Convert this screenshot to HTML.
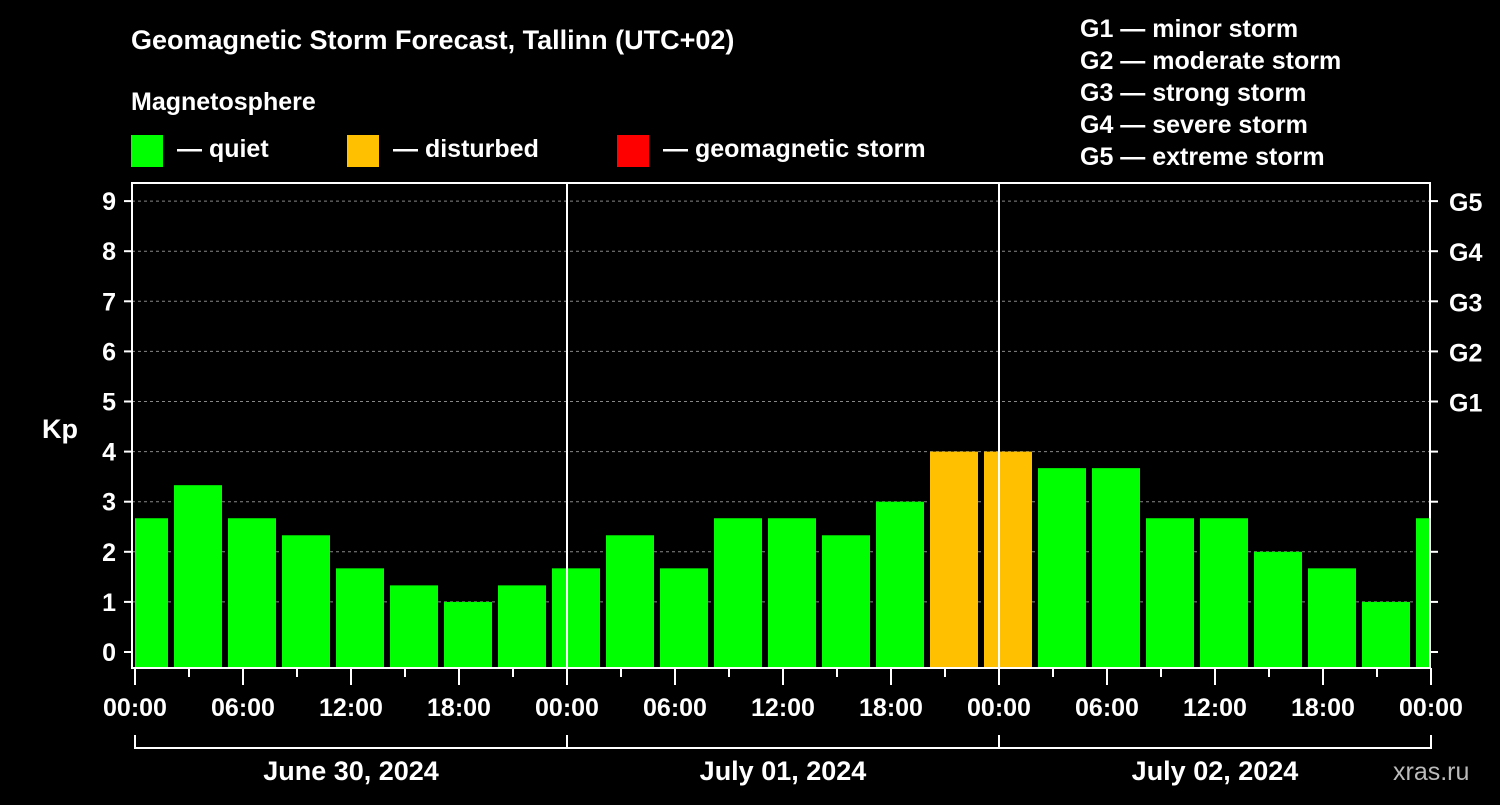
<!DOCTYPE html>
<html><head><meta charset="utf-8"><style>
body{margin:0;background:#000;width:1500px;height:800px;overflow:hidden}
svg text{font-family:"Liberation Sans",sans-serif;font-weight:bold;fill:#fff}
</style></head><body>
<svg id="c" width="1500" height="800" xmlns="http://www.w3.org/2000/svg">
<rect width="1500" height="800" fill="#000"/>
<text x="131" y="49" font-size="27">Geomagnetic Storm Forecast, Tallinn (UTC+02)</text>
<text x="131" y="110" font-size="25">Magnetosphere</text>
<g><rect x="131" y="135" width="32" height="32" fill="#00ff00"/><text x="177" y="157" font-size="25">— quiet</text></g>
<g><rect x="347" y="135" width="32" height="32" fill="#ffc000"/><text x="393" y="157" font-size="25">— disturbed</text></g>
<g><rect x="617" y="135" width="32" height="32" fill="#ff0000"/><text x="663" y="157" font-size="25">— geomagnetic storm</text></g>
<g font-size="25">
<text x="1080" y="37">G1 — minor storm</text>
<text x="1080" y="69">G2 — moderate storm</text>
<text x="1080" y="101">G3 — strong storm</text>
<text x="1080" y="133">G4 — severe storm</text>
<text x="1080" y="165">G5 — extreme storm</text>
</g>
<text x="42" y="438" font-size="27">Kp</text>
<text x="1393" y="780" font-size="25" fill="#ccc" style="fill:#bbb;font-weight:normal">xras.ru</text>
<g id="plot"></g>
</svg>
<script>
const kpValues=[2.67,3.33,2.67,2.33,1.67,1.33,1,1.33,1.67,2.33,1.67,2.67,2.67,2.33,3,4,4,3.67,3.67,2.67,2.67,2,1.67,1,2.67];
const yTicks=[0,1,2,3,4,5,6,7,8,9];
const gLabels=["G1","G2","G3","G4","G5"];
const xTickLabels=["00:00","06:00","12:00","18:00","00:00","06:00","12:00","18:00","00:00","06:00","12:00","18:00","00:00"];
const dateLabels=["June 30, 2024","July 01, 2024","July 02, 2024"];
const NS="http://www.w3.org/2000/svg";
const L=132,R=1430,T=183,B=668,X0=135,DAY=432;
const y=v=>652-v*50.1;
const xh=h=>X0+h*DAY/24;
const g=document.getElementById('plot');
function el(t,a,p){const e=document.createElementNS(NS,t);for(const k in a)e.setAttribute(k,a[k]);(p||g).appendChild(e);return e;}
const clip=el('clipPath',{id:'pc'});el('rect',{x:X0,y:T,width:R-X0,height:B-T},clip);
yTicks.forEach(v=>{
 if(v>0){const l=el('line',{x1:L,x2:R,y1:y(v),y2:y(v),stroke:'#888','stroke-dasharray':'3,3','stroke-width':1});
 
 }
 el('line',{x1:L-8,x2:L,y1:y(v),y2:y(v),stroke:'#fff','stroke-width':2});
 el('line',{x1:R,x2:R+8,y1:y(v),y2:y(v),stroke:'#fff','stroke-width':2});
 const t=el('text',{x:L-16,y:y(v)+9,'font-size':25,'text-anchor':'end'});t.textContent=v;
 
 
});
gLabels.forEach((s,i)=>{const t=el('text',{x:1449,y:y(5+i)+10,'font-size':25});t.textContent=s;
 
 });
kpValues.forEach((v,i)=>{
 const c=144+i*54;
 const r=el('rect',{x:c-24,y:y(v),width:48,height:B-y(v),fill:v>=5?'#ff0000':(v>=4?'#ffc000':'#00ff00'),'clip-path':'url(#pc)'});
 
 
});
[1,2].forEach(d=>el('line',{x1:xh(24*d),x2:xh(24*d),y1:T,y2:B,stroke:'#fff','stroke-width':2}));
el('rect',{x:L,y:T,width:R-L,height:B-T,fill:'none',stroke:'#fff','stroke-width':2});
for(let i=0;i<=24;i++){const X=xh(i*3);el('line',{x1:X,x2:X,y1:B,y2:B+(i%2?9:17),stroke:'#fff','stroke-width':2});}
xTickLabels.forEach((s,i)=>{const t=el('text',{x:xh(i*6),y:716,'font-size':25,'text-anchor':'middle'});t.textContent=s;
 
 });
el('path',{d:`M${xh(0)} 735V748H${xh(72)}V735`,fill:'none',stroke:'#fff','stroke-width':2});
[1,2].forEach(d=>el('line',{x1:xh(24*d),x2:xh(24*d),y1:735,y2:748,stroke:'#fff','stroke-width':2}));
dateLabels.forEach((s,i)=>{const t=el('text',{x:xh(24*i+12),y:780,'font-size':27,'text-anchor':'middle'});t.textContent=s;
 
 });
</script>
</body></html>
